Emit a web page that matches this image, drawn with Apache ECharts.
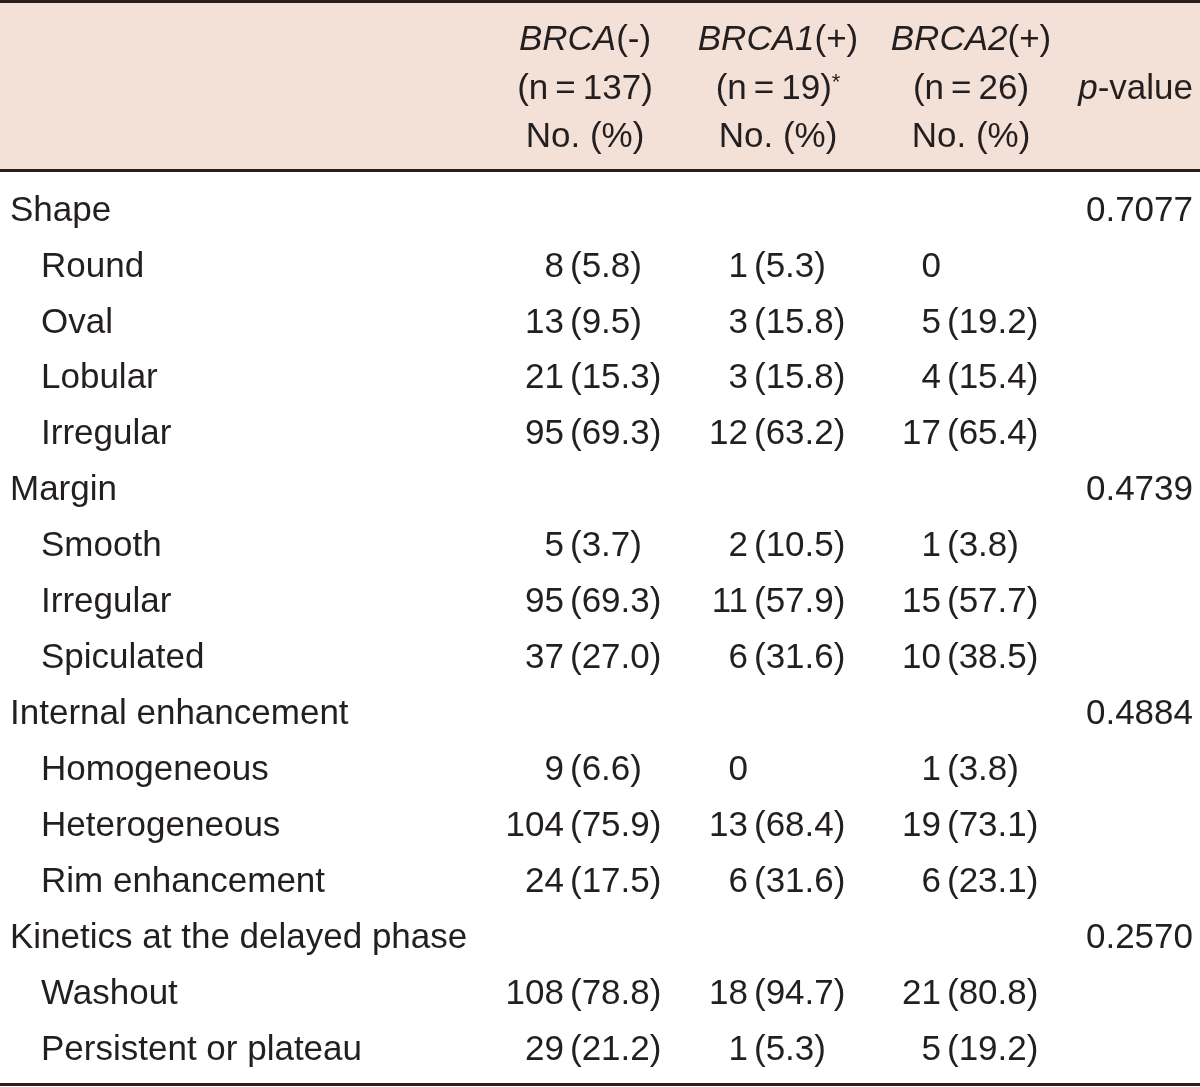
<!DOCTYPE html>
<html><head><meta charset="utf-8">
<script src="https://cdn.jsdelivr.net/npm/echarts@6/dist/echarts.min.js"></script>
<style>html,body{margin:0;padding:0;background:#fff}#c{width:1200px;height:1087px}</style>
</head><body><div id="c"></div>
<script>
// ---- data ----
const rowLabels = ['Shape','Round','Oval','Lobular','Irregular','Margin','Smooth','Irregular','Spiculated',
  'Internal enhancement','Homogeneous','Heterogeneous','Rim enhancement','Kinetics at the delayed phase','Washout','Persistent or plateau'];
const rowLevel = [0,1,1,1,1,0,1,1,1,0,1,1,1,0,1,1];
const brcaNegN   = [null,8,13,21,95,null,5,95,37,null,9,104,24,null,108,29];
const brcaNegPct = [null,5.8,9.5,15.3,69.3,null,3.7,69.3,27.0,null,6.6,75.9,17.5,null,78.8,21.2];
const brca1N     = [null,1,3,3,12,null,2,11,6,null,0,13,6,null,18,1];
const brca1Pct   = [null,5.3,15.8,15.8,63.2,null,10.5,57.9,31.6,null,null,68.4,31.6,null,94.7,5.3];
const brca2N     = [null,0,5,4,17,null,1,15,10,null,1,19,6,null,21,5];
const brca2Pct   = [null,null,19.2,15.4,65.4,null,3.8,57.7,38.5,null,3.8,73.1,23.1,null,80.8,19.2];
const pValues    = ['0.7077',null,null,null,null,'0.4739',null,null,null,'0.4884',null,null,null,'0.2570',null,null];
const headerGene = ['BRCA','BRCA1','BRCA2'];
const headerSign = ['(-)','(+)','(+)'];
const headerN    = [137,19,26];
const headerNote = ['','*',''];
const headerUnit = 'No. (%)';
const headerP    = ['p','-value'];

// ---- layout ----
const FONT = 'Liberation Sans';
const FS = 35;
const TXT = '#231f20';
const LINE = '#2a1e1b';
const HEAD_BG = '#f3e0d6';
const colCenter = [585, 778, 971];
const colAnchor = [564, 748, 941];
const pRight = 1193;
const labelX = [10, 41];
const columns = [[brcaNegN, brcaNegPct],[brca1N, brca1Pct],[brca2N, brca2Pct]];

function txt(x, y, s, align, extra) {
  return Object.assign({type:'text', x:x, y:y, style:{text:s, fill:TXT, fontFamily:FONT, fontSize:FS, align:align, verticalAlign:'middle'}}, extra||{});
}

const headerLines = [40, 89, 137];
const graphic = [
  {type:'rect', shape:{x:0,y:2,width:1200,height:168}, style:{fill:HEAD_BG}, z:0},
  {type:'rect', shape:{x:0,y:0,width:1200,height:3}, style:{fill:LINE}, z:1},
  {type:'rect', shape:{x:0,y:169,width:1200,height:3}, style:{fill:LINE}, z:1},
  {type:'rect', shape:{x:0,y:1083,width:1200,height:3}, style:{fill:LINE}, z:1}
];
const rich = {
  i:{fontStyle:'italic', fontFamily:FONT, fontSize:FS, fill:TXT},
  r:{fontFamily:FONT, fontSize:FS, fill:TXT},
  s:{fontFamily:FONT, fontSize:22, fill:TXT, verticalAlign:'top'}
};
for (let c = 0; c < 3; c++) {
  graphic.push({type:'text', x:colCenter[c], y:headerLines[0], z:2,
    style:{text:'{i|'+headerGene[c]+'}{r|'+headerSign[c]+'}', rich:rich, fontFamily:FONT, fontSize:FS, fill:TXT, align:'center', verticalAlign:'middle'}});
  graphic.push({type:'text', x:colCenter[c], y:headerLines[1], z:2,
    style:{text:'{r|(n\u2009=\u2009'+headerN[c]+')}' + (headerNote[c] ? '{s|'+headerNote[c]+'}' : ''), rich:rich, fontFamily:FONT, fontSize:FS, fill:TXT, align:'center', verticalAlign:'middle'}});
  graphic.push(Object.assign(txt(colCenter[c], headerLines[2], headerUnit, 'center'), {z:2}));
}
graphic.push({type:'text', x:pRight, y:headerLines[1], z:2,
  style:{text:'{i|'+headerP[0]+'}{r|'+headerP[1]+'}', rich:rich, fontFamily:FONT, fontSize:FS, fill:TXT, align:'right', verticalAlign:'middle'}});

function renderItem(params, api) {
  const i = api.value(1);
  const y = api.coord([0, i])[1];
  const kids = [];
  kids.push(txt(api.coord([labelX[rowLevel[i]], i])[0], y, rowLabels[i], 'left'));
  for (let c = 0; c < 3; c++) {
    const n = columns[c][0][i], p = columns[c][1][i];
    const ax = api.coord([colAnchor[c], i])[0];
    if (n !== null) kids.push(txt(ax, y, String(n), 'right'));
    if (p !== null) kids.push(txt(ax + 6, y, '(' + p.toFixed(1) + ')', 'left'));
  }
  if (pValues[i]) kids.push(txt(api.coord([pRight, i])[0], y, pValues[i], 'right'));
  return {type:'group', children:kids};
}

const chart = echarts.init(document.getElementById('c'), null, {renderer:'canvas'});
chart.setOption({
  animation:false,
  backgroundColor:'#ffffff',
  grid:{left:0, right:0, top:183, bottom:9},
  xAxis:{type:'value', min:0, max:1200, show:false},
  yAxis:{type:'category', data:rowLabels, inverse:true, show:false},
  graphic:graphic,
  series:[{type:'custom', renderItem:renderItem, data:rowLabels.map((l,i)=>[0,i]), silent:true}]
});
</script></body></html>
